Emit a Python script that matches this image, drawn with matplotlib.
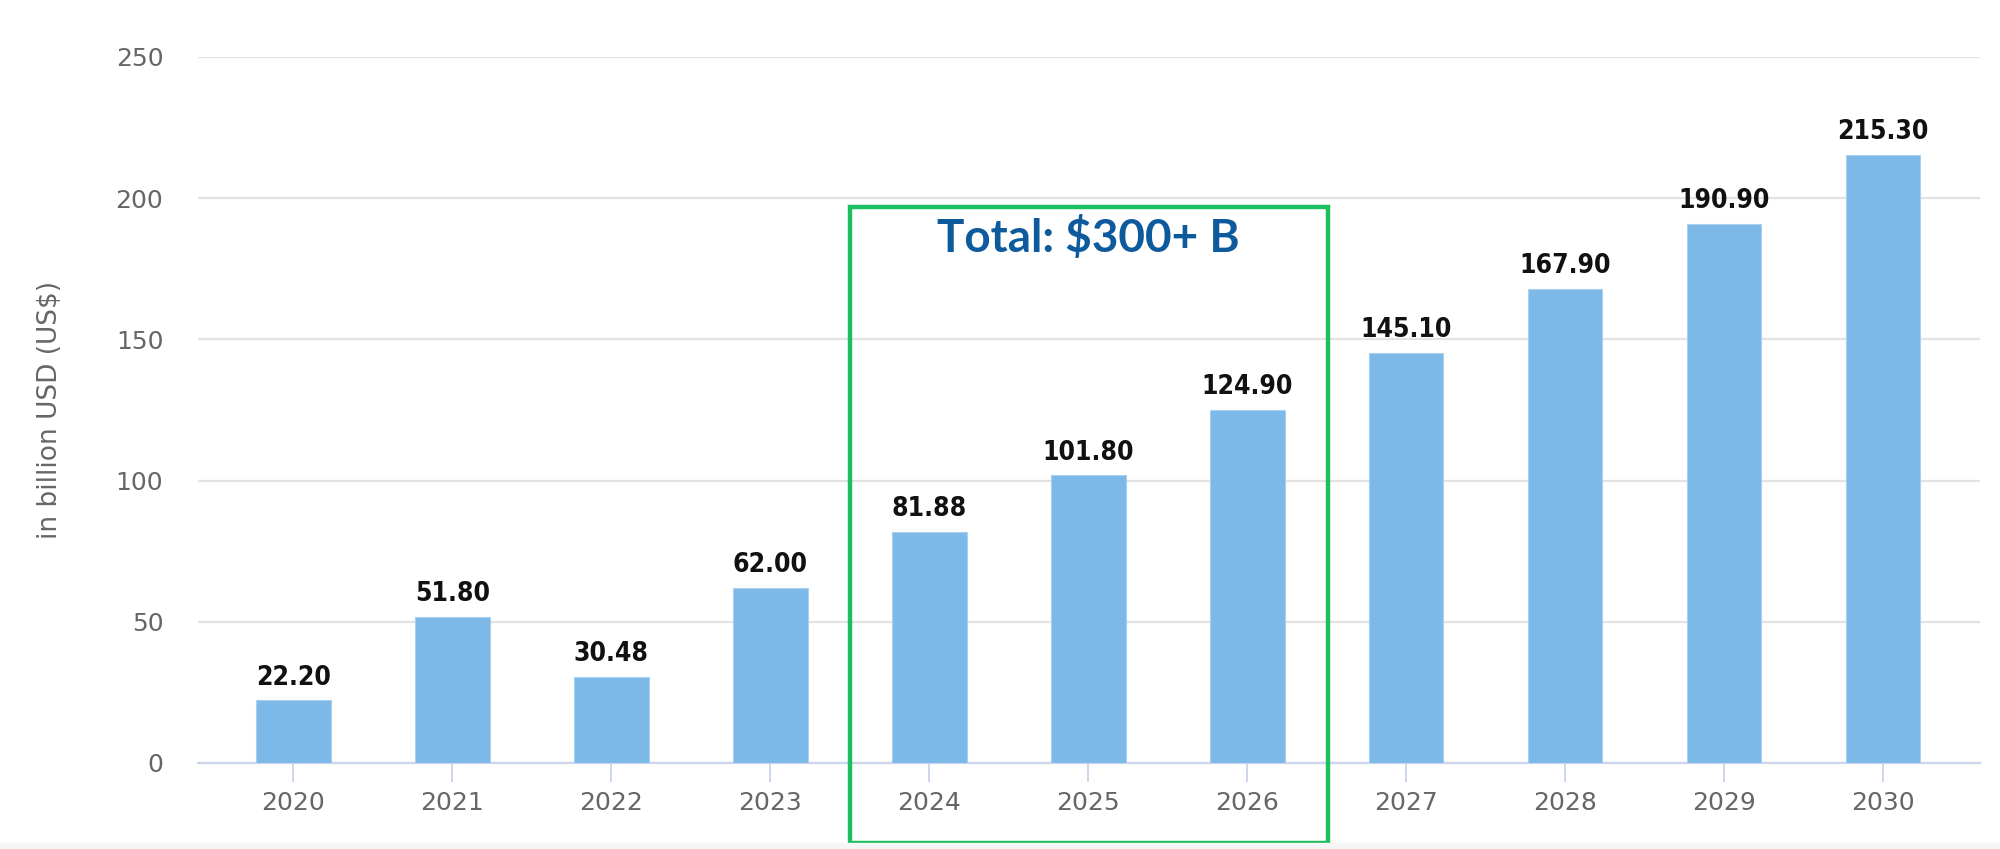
import matplotlib.pyplot as plt
from matplotlib.patches import Rectangle

years = ['2020', '2021', '2022', '2023', '2024', '2025', '2026', '2027', '2028', '2029', '2030']
values = [22.20, 51.80, 30.48, 62.00, 81.88, 101.80, 124.90, 145.10, 167.90, 190.90, 215.30]
labels = ['22.20', '51.80', '30.48', '62.00', '81.88', '101.80', '124.90', '145.10', '167.90', '190.90', '215.30']
yticks = [0, 50, 100, 150, 200, 250]
highlight = ['2024', '2026']
highlight_text = 'Total: $300+ B'

fig = plt.figure(figsize=(20, 8.49), dpi=100)
ax = fig.add_axes([0.099, 0.1013, 0.891, 0.8317])

x = list(range(len(years)))
ax.bar(x, values, width=0.47, color='#7cb9e8', edgecolor='#a9d0f0', linewidth=0.8, zorder=3)

for xi, v, lab in zip(x, values, labels):
    ax.annotate(lab, (xi, v), xytext=(0, 7), textcoords='offset points',
                ha='center', va='bottom', fontsize=19, fontweight='bold',
                fontstretch='condensed', color='#111111')

ax.set_xlim(-0.60, 10.61)
ax.set_ylim(0, 250)
ax.set_yticks(yticks)
ax.set_xticks(x)
ax.set_xticklabels(years)
ax.yaxis.grid(True, color='#e3e3e3', linewidth=1.6, zorder=0)
ax.set_axisbelow(True)

for s in ['top', 'right', 'left']:
    ax.spines[s].set_visible(False)
ax.spines['bottom'].set_color('#ccd6eb')
ax.spines['bottom'].set_linewidth(1.6)

ax.tick_params(axis='y', length=0, pad=25, labelsize=18, labelcolor='#666666')
ax.tick_params(axis='x', length=14, width=1.4, color='#ccd6eb', pad=6,
               labelsize=18, labelcolor='#666666')

ax.set_ylabel('in billion USD (US$)', fontsize=19, color='#666666', labelpad=38)

# green box around the 2024-2026 bars
i0 = years.index(highlight[0])
i1 = years.index(highlight[1])
box = Rectangle((i0 - 0.50, -28.5), (i1 - i0) + 1.01, 225.2, fill=False,
                edgecolor='#1dbf5f', linewidth=3.2, clip_on=False, zorder=5)
ax.add_patch(box)
ax.text((i0 + i1) / 2, 186.0, highlight_text, ha='center', va='center',
        fontsize=33, fontweight='bold', color='#0d5a9c', family='Lato')

# light strip along bottom edge of screenshot
fig.patches.append(Rectangle((0, 0), 1, 0.007, transform=fig.transFigure,
                             color='#f6f6f7', zorder=0))

fig.savefig('out.png', dpi=100, facecolor='white')
